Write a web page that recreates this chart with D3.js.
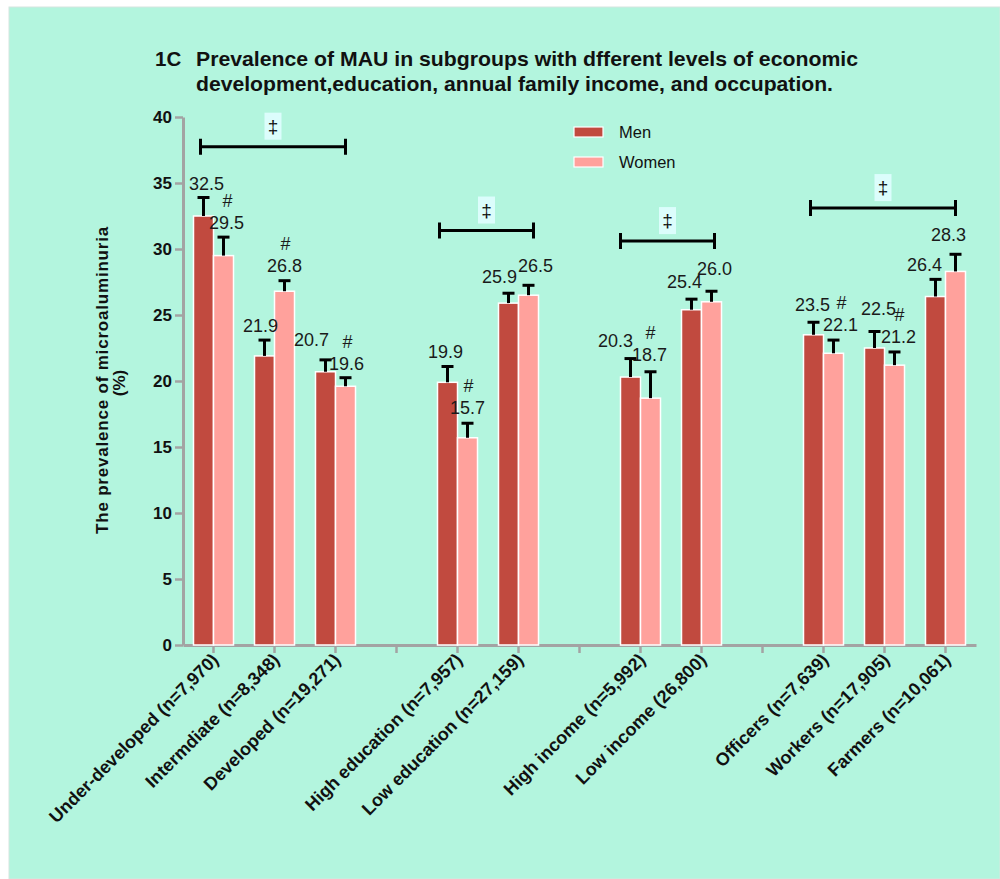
<!DOCTYPE html>
<html>
<head>
<meta charset="utf-8">
<script src="https://cdn.jsdelivr.net/npm/d3@7"></script>
<style>
  html, body { margin: 0; padding: 0; background: #ffffff; }
  svg { display: block; }
  text { font-family: "Liberation Sans", Arial, sans-serif; }
</style>
</head>
<body>
<svg id="chart" width="1000" height="879"></svg>
<script>
// Slots along the x axis; empty strings are the spacer slots between groups
const slotLabels = [
  "Under-developed (n=7,970)", "Intermdiate (n=8,348)", "Developed (n=19,271)", "",
  "High education (n=7,957)", "Low education (n=27,159)", "",
  "High income (n=5,992)", "Low income (26,800)", "",
  "Officers (n=7,639)", "Workers (n=17,905)", "Farmers (n=10,061)"
];

// Prevalence (%) and upper error (SE) for each subgroup
const menValues   = [32.5, 21.9, 20.7, 19.9, 25.9, 20.3, 25.4, 23.5, 22.5, 26.4];
const menErrors   = [1.4, 1.2, 0.9, 1.2, 0.75, 1.4, 0.8, 0.95, 1.25, 1.3];
const womenValues = [29.5, 26.8, 19.6, 15.7, 26.5, 18.7, 26.0, 22.1, 21.2, 28.3];
const womenErrors = [1.4, 0.8, 0.65, 1.1, 0.75, 2.0, 0.8, 1.0, 1.0, 1.3];
// "#" marks: women differ significantly from men
const womenSignificant = [true, true, true, true, false, true, false, true, true, false];

// "‡" brackets across subgroups: first and last subgroup index, bracket level (%)
const bracketFrom  = [0, 3, 5, 7];
const bracketTo    = [2, 4, 6, 9];
const bracketLevel = [37.75, 31.4, 30.6, 33.1];

const yTicks = [0, 5, 10, 15, 20, 25, 30, 35, 40];
const seriesNames = ["Men", "Women"];

// ---- layout (pixel nudges for value labels so they do not collide) ----
const menLabelNudge   = [[3,0],[-4,0],[-14,-6],[-2,0],[-9,-2],[-15,-4],[-7,-3],[-1,-3],[4,-9],[-11,0]];
const womenLabelNudge = [[3,0],[0,-1],[1,0],[0,-1],[7,-5],[-1,-3],[3,-8],[7,-1],[4,-1],[-7,-5]];
const bracketReach = [[-3,0],[-8,5],[-10,3],[-3,0]];

const colors = { men: "#c14a3f", women: "#ffa19c", bg: "#b3f5de", axis: "#a3a3a3" };

const svg = d3.select("#chart");

// background panel
svg.append("rect").attr("x", 9).attr("y", 7).attr("width", 991).attr("height", 872)
  .attr("fill", colors.bg).attr("stroke", "#d6e6df").attr("stroke-width", 1);

// scales
const x = d3.scaleBand().domain(d3.range(slotLabels.length)).range([183, 976]).padding(0);
const y = d3.scaleLinear().domain([0, 40]).range([645, 117]);

// map subgroup index to slot index
const subgroupSlots = slotLabels.map((d, i) => d ? i : -1).filter(i => i >= 0);
const barW = 20;
const slotCenter = i => x(subgroupSlots[i]) + x.bandwidth() / 2;
const menCenter = i => slotCenter(i) - barW / 2;
const womenCenter = i => slotCenter(i) + barW / 2;

// title
const title = svg.append("g").attr("font-weight", "bold").attr("fill", "#111").attr("font-size", 20.5);
title.append("text").attr("x", 155).attr("y", 66).text("1C");
title.append("text").attr("x", 196).attr("y", 66)
  .attr("textLength", 662).attr("lengthAdjust", "spacingAndGlyphs")
  .text("Prevalence of MAU in subgroups with dfferent levels of economic");
title.append("text").attr("x", 196).attr("y", 91)
  .attr("textLength", 637).attr("lengthAdjust", "spacingAndGlyphs")
  .text("development,education, annual family income, and occupation.");

// y axis
const yAxis = svg.append("g").attr("transform", "translate(183,0)")
  .call(d3.axisLeft(y).tickValues(yTicks).tickSize(8).tickSizeOuter(0).tickPadding(3));
yAxis.select(".domain").attr("stroke", colors.axis).attr("stroke-width", 3);
yAxis.selectAll(".tick line").attr("stroke", colors.axis).attr("stroke-width", 2.5);
yAxis.selectAll(".tick text").attr("font-size", 17).attr("font-weight", "bold")
  .attr("fill", "#111").attr("font-family", "Liberation Sans, Arial, sans-serif");

// x axis
const xAxis = svg.append("g").attr("transform", "translate(0,645)")
  .call(d3.axisBottom(x).tickSize(8).tickSizeOuter(0).tickFormat(""));
xAxis.select(".domain").attr("stroke", colors.axis).attr("stroke-width", 3);
xAxis.selectAll(".tick line").attr("stroke", colors.axis).attr("stroke-width", 2.5);

// rotated category labels
svg.append("g").selectAll("text").data(slotLabels.map((d, i) => ({ d, i })).filter(o => o.d))
  .join("text")
  .attr("transform", o => `translate(${x(o.i) + x.bandwidth() / 2 + 6},661) rotate(-45)`)
  .attr("text-anchor", "end")
  .attr("font-size", 18).attr("font-weight", "bold").attr("fill", "#111")
  .text(o => o.d);

// y axis title
const yTitle = svg.append("g").attr("font-weight", "bold").attr("font-size", 17).attr("fill", "#111")
  .attr("text-anchor", "middle");
yTitle.append("text").attr("transform", "translate(108,380) rotate(-90)")
  .attr("letter-spacing", 0.8).text("The prevalence of microaluminuria");
yTitle.append("text").attr("transform", "translate(125,383) rotate(-90)").text("(%)");

// bars
const rows = menValues.map((v, i) => ({
  i, men: v, menErr: menErrors[i], women: womenValues[i], womenErr: womenErrors[i]
}));

const bars = svg.append("g");
bars.selectAll("rect.men").data(rows).join("rect").attr("class", "men")
  .attr("x", d => slotCenter(d.i) - barW).attr("width", barW)
  .attr("y", d => y(d.men)).attr("height", d => y(0) - y(d.men))
  .attr("fill", colors.men).attr("stroke", "#ffffff").attr("stroke-width", 1.5);
bars.selectAll("rect.women").data(rows).join("rect").attr("class", "women")
  .attr("x", d => slotCenter(d.i)).attr("width", barW)
  .attr("y", d => y(d.women)).attr("height", d => y(0) - y(d.women))
  .attr("fill", colors.women).attr("stroke", "#ffffff").attr("stroke-width", 1.5);

// error bars (upper only)
const errs = [];
rows.forEach(d => {
  errs.push({ cx: menCenter(d.i), v: d.men, e: d.menErr });
  errs.push({ cx: womenCenter(d.i), v: d.women, e: d.womenErr });
});
const eg = svg.append("g").attr("stroke", "#000").attr("stroke-width", 3);
eg.selectAll("line.v").data(errs).join("line").attr("class", "v")
  .attr("x1", d => d.cx).attr("x2", d => d.cx)
  .attr("y1", d => y(d.v)).attr("y2", d => y(d.v + d.e));
eg.selectAll("line.c").data(errs).join("line").attr("class", "c")
  .attr("x1", d => d.cx - 6).attr("x2", d => d.cx + 6)
  .attr("y1", d => y(d.v + d.e)).attr("y2", d => y(d.v + d.e));

// value labels
const lg = svg.append("g").attr("font-size", 18).attr("fill", "#1a1a1a").attr("text-anchor", "middle");
lg.selectAll("text.men").data(rows).join("text").attr("class", "men")
  .attr("x", d => menCenter(d.i) + menLabelNudge[d.i][0])
  .attr("y", d => y(d.men + d.menErr) - 8 + menLabelNudge[d.i][1])
  .text(d => d.men.toFixed(1));
lg.selectAll("text.women").data(rows).join("text").attr("class", "women")
  .attr("x", d => womenCenter(d.i) + womenLabelNudge[d.i][0])
  .attr("y", d => y(d.women + d.womenErr) - 8 + womenLabelNudge[d.i][1])
  .text(d => d.women.toFixed(1));
lg.selectAll("text.sig").data(rows.filter(d => womenSignificant[d.i])).join("text").attr("class", "sig")
  .attr("x", d => womenCenter(d.i) + womenLabelNudge[d.i][0] + 1)
  .attr("y", d => y(d.women + d.womenErr) - 30 + womenLabelNudge[d.i][1])
  .text("#");

// significance brackets
const br = bracketFrom.map((f, k) => ({
  x1: menCenter(f) + bracketReach[k][0],
  x2: womenCenter(bracketTo[k]) + bracketReach[k][1],
  yv: y(bracketLevel[k])
}));
const bg = svg.append("g");
bg.selectAll("path").data(br).join("path")
  .attr("d", d => `M${d.x1},${d.yv}H${d.x2}M${d.x1},${d.yv - 8}V${d.yv + 8}M${d.x2},${d.yv - 8}V${d.yv + 8}`)
  .attr("stroke", "#000").attr("stroke-width", 3).attr("fill", "none");
bg.selectAll("rect").data(br).join("rect")
  .attr("x", d => (d.x1 + d.x2) / 2 - 8.5).attr("y", d => d.yv - 34)
  .attr("width", 17).attr("height", 27).attr("fill", "#dcfdfc");
bg.selectAll("text").data(br).join("text")
  .attr("x", d => (d.x1 + d.x2) / 2).attr("y", d => d.yv - 14)
  .attr("text-anchor", "middle").attr("font-size", 19).attr("fill", "#111")
  .text("‡");

// legend
const legend = svg.append("g");
seriesNames.forEach((name, k) => {
  legend.append("rect").attr("x", 574).attr("y", 127 + k * 30).attr("width", 29).attr("height", 10)
    .attr("fill", k === 0 ? colors.men : colors.women).attr("stroke", "#fff").attr("stroke-width", 1.2);
  legend.append("text").attr("x", 619).attr("y", 138 + k * 30)
    .attr("font-size", 16.5).attr("fill", "#111").text(name);
});
</script>
</body>
</html>
